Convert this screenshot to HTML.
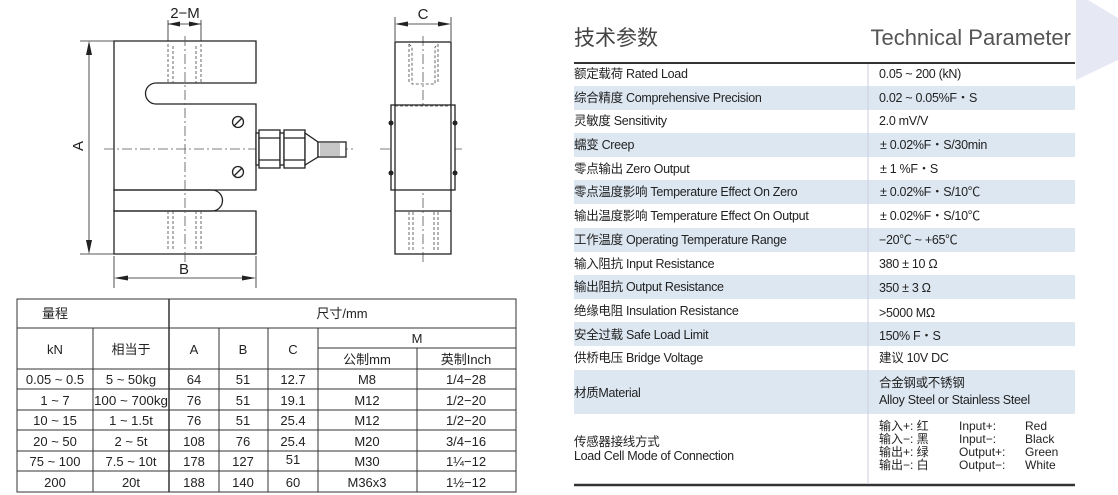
<!DOCTYPE html>
<html><head><meta charset="utf-8"><style>
html,body{margin:0;padding:0;background:#fff;}
body{width:1118px;height:495px;overflow:hidden;position:relative;font-family:"Liberation Sans","Noto Sans CJK SC",sans-serif;}
svg{position:absolute;left:0;top:0;}
</style></head><body>
<svg width="1118" height="495" viewBox="0 0 1118 495" font-family="Liberation Sans, Noto Sans CJK SC, sans-serif">
<polygon points="1076,0 1088,0 1118,18 1118,60 1076,80" fill="#e6e9f3"/>

<g stroke="#222" stroke-width="1.3" fill="none">
<path d="M114,41 H256 V83 H156 A10.5,10.5 0 0 0 156,104 H256 V190 H114 Z"/>
<path d="M114,190 H212 A10.5,10.5 0 0 1 212,211 H114 Z" fill="none"/>
<path d="M114,211 H256 V254 H114 Z"/>
</g>
<g stroke="#444" stroke-width="0.8" stroke-dasharray="3,2" fill="none">
<line x1="168" y1="44" x2="168" y2="83"/><line x1="201" y1="44" x2="201" y2="83"/>
<line x1="173" y1="46" x2="173" y2="83"/><line x1="196" y1="46" x2="196" y2="83"/>
<line x1="168" y1="211" x2="168" y2="251"/><line x1="201" y1="211" x2="201" y2="251"/>
<line x1="173" y1="211" x2="173" y2="249"/><line x1="196" y1="211" x2="196" y2="249"/>
</g>
<g stroke="#555" stroke-width="0.8" stroke-dasharray="10,3,2,3" fill="none">
<line x1="185" y1="36" x2="185" y2="262"/>
<line x1="104" y1="149" x2="353" y2="149"/>
<line x1="380" y1="149" x2="462" y2="149"/>
<line x1="423" y1="36" x2="423" y2="263"/>
</g>
<g stroke="#222" stroke-width="1.3" fill="none">
<circle cx="238" cy="122" r="5.5"/><line x1="234" y1="126" x2="242" y2="118"/>
<circle cx="238" cy="172" r="5.5"/><line x1="234" y1="176" x2="242" y2="168"/>
</g>
<g stroke="#222" stroke-width="1.3" fill="#fff">
<rect x="256" y="133" width="3" height="32"/>
<rect x="259" y="130" width="21" height="38"/>
<line x1="259" y1="138" x2="280" y2="138"/><line x1="259" y1="160" x2="280" y2="160"/>
<rect x="280" y="133" width="4" height="32"/>
<rect x="284" y="130" width="21" height="38"/>
<line x1="284" y1="138" x2="305" y2="138"/><line x1="284" y1="160" x2="305" y2="160"/>
<path d="M305,133 L318,142 V157 L305,165 Z"/>
<rect x="318" y="142" width="28" height="15"/>
</g>
<g stroke="#444" stroke-width="0.6">
<line x1="321" y1="143" x2="321" y2="156"/><line x1="323" y1="143" x2="323" y2="156"/><line x1="325" y1="143" x2="325" y2="156"/><line x1="327" y1="143" x2="327" y2="156"/><line x1="329" y1="143" x2="329" y2="156"/><line x1="331" y1="143" x2="331" y2="156"/><line x1="333" y1="143" x2="333" y2="156"/><line x1="335" y1="143" x2="335" y2="156"/><line x1="337" y1="143" x2="337" y2="156"/><line x1="339" y1="143" x2="339" y2="156"/>
</g>
<g stroke="#222" stroke-width="0.8" fill="none">
<line x1="80" y1="41" x2="114" y2="41"/><line x1="80" y1="254" x2="114" y2="254"/>
<line x1="89" y1="43" x2="89" y2="252"/>
<line x1="168" y1="20" x2="168" y2="41"/><line x1="201" y1="20" x2="201" y2="41"/>
<line x1="168" y1="24" x2="201" y2="24"/>
<line x1="114" y1="256" x2="114" y2="288"/><line x1="256" y1="256" x2="256" y2="288"/>
<line x1="116" y1="278" x2="254" y2="278"/>
<line x1="395" y1="17" x2="395" y2="41"/><line x1="451" y1="17" x2="451" y2="41"/>
<line x1="397" y1="24" x2="449" y2="24"/>
</g>
<g fill="#222">
<polygon points="89,41 86,55 92,55"/><polygon points="89,254 86,240 92,240"/>
<polygon points="168,24 180,21.5 180,26.5"/><polygon points="201,24 189,21.5 189,26.5"/>
<polygon points="114,278 128,275.5 128,280.5"/><polygon points="256,278 242,275.5 242,280.5"/>
<polygon points="395,24 408,21.5 408,26.5"/><polygon points="451,24 438,21.5 438,26.5"/>
</g>
<g font-size="15" fill="#222" text-anchor="middle">
<text x="185" y="18">2−M</text>
<text x="423" y="19">C</text>
<text x="184" y="274">B</text>
<text transform="translate(83,146) rotate(-90)">A</text>
</g>
<g stroke="#222" stroke-width="1.3" fill="none">
<rect x="395" y="42" width="56" height="212"/>
<rect x="391" y="105" width="64" height="85" fill="#fff"/>
<line x1="395" y1="211" x2="451" y2="211"/>
<line x1="395" y1="105" x2="395" y2="190"/><line x1="451" y1="105" x2="451" y2="190"/>
</g>
<g fill="#222"><circle cx="391" cy="123" r="2.5"/><circle cx="391" cy="173" r="2.5"/><circle cx="455" cy="123" r="2.5"/><circle cx="455" cy="173" r="2.5"/></g>
<g stroke="#444" stroke-width="0.8" stroke-dasharray="3,2" fill="none">
<path d="M409,44 L412,47 V84 H435 V47 L438,44"/>
<line x1="409" y1="44" x2="409" y2="84"/><line x1="438" y1="44" x2="438" y2="84"/>
<line x1="409" y1="212" x2="409" y2="252"/><line x1="438" y1="212" x2="438" y2="252"/>
<line x1="413" y1="212" x2="413" y2="252"/><line x1="434" y1="212" x2="434" y2="252"/>
<line x1="395" y1="106" x2="451" y2="106"/>
</g>

<g stroke="#333" stroke-width="1" fill="none">
<rect x="17" y="299" width="499" height="193"/>
<line x1="17" y1="328" x2="516" y2="328"/>
<line x1="17" y1="369" x2="516" y2="369"/>
<line x1="17" y1="389" x2="516" y2="389"/>
<line x1="17" y1="410" x2="516" y2="410"/>
<line x1="17" y1="430" x2="516" y2="430"/>
<line x1="17" y1="451" x2="516" y2="451"/>
<line x1="17" y1="471" x2="516" y2="471"/>
<line x1="318" y1="348" x2="516" y2="348"/>
<line x1="93" y1="328" x2="93" y2="492"/>
<line x1="169" y1="299" x2="169" y2="492" stroke-width="1.5"/>
<line x1="219" y1="328" x2="219" y2="492"/>
<line x1="268" y1="328" x2="268" y2="492"/>
<line x1="318" y1="328" x2="318" y2="492"/>
<line x1="417" y1="348" x2="417" y2="492"/>
</g>
<g font-size="13" fill="#222" text-anchor="middle">
<text x="55" y="318">量程</text>
<text x="342" y="318">尺寸/mm</text>
<text x="55" y="354">kN</text><text x="131" y="354">相当于</text>
<text x="194" y="354">A</text><text x="243" y="354">B</text><text x="293" y="354">C</text>
<text x="417" y="343">M</text>
<text x="367" y="364">公制mm</text><text x="466" y="364">英制Inch</text>
<text x="55" y="384">0.05 ~ 0.5</text><text x="131" y="384">5 ~ 50kg</text><text x="194" y="384">64</text><text x="243" y="384">51</text><text x="293" y="384">12.7</text><text x="367" y="384">M8</text><text x="466" y="384">1/4−28</text>
<text x="55" y="405">1 ~ 7</text><text x="131" y="405" textLength="74" lengthAdjust="spacingAndGlyphs">100 ~ 700kg</text><text x="194" y="405">76</text><text x="243" y="405">51</text><text x="293" y="405">19.1</text><text x="367" y="405">M12</text><text x="466" y="405">1/2−20</text>
<text x="55" y="425">10 ~ 15</text><text x="131" y="425">1 ~ 1.5t</text><text x="194" y="425">76</text><text x="243" y="425">51</text><text x="293" y="425">25.4</text><text x="367" y="425">M12</text><text x="466" y="425">1/2−20</text>
<text x="55" y="446">20 ~ 50</text><text x="131" y="446">2 ~ 5t</text><text x="194" y="446">108</text><text x="243" y="446">76</text><text x="293" y="446">25.4</text><text x="367" y="446">M20</text><text x="466" y="446">3/4−16</text>
<text x="55" y="466">75 ~ 100</text><text x="131" y="466">7.5 ~ 10t</text><text x="194" y="466">178</text><text x="243" y="466">127</text><text x="293" y="464">51</text><text x="367" y="466">M30</text><text x="466" y="466">1¼−12</text>
<text x="55" y="487">200</text><text x="131" y="487">20t</text><text x="194" y="487">188</text><text x="243" y="487">140</text><text x="293" y="487">60</text><text x="367" y="487">M36x3</text><text x="466" y="487">1½−12</text>
</g>

<text x="574" y="45" font-size="21" fill="#444">技术参数</text>
<text x="1071" y="45" font-size="22" fill="#555" text-anchor="end">Technical Parameter</text>
<g fill="#dde7f1">
<rect x="574" y="86" width="501" height="24"/>
<rect x="574" y="133" width="501" height="24"/>
<rect x="574" y="180" width="501" height="24"/>
<rect x="574" y="228" width="501" height="24"/>
<rect x="574" y="275" width="501" height="24"/>
<rect x="574" y="322" width="501" height="24"/>
<rect x="574" y="370" width="501" height="44"/>
</g>
<line x1="574" y1="63" x2="1075" y2="63" stroke="#333" stroke-width="2"/>
<line x1="574" y1="485" x2="1075" y2="485" stroke="#333" stroke-width="2.5"/>
<line x1="868" y1="64" x2="868" y2="484" stroke="#ccd" stroke-width="1"/>
<g font-size="12.5" fill="#222" letter-spacing="-0.3">
<text x="574" y="78">额定载荷 Rated Load</text><text x="879" y="78">0.05 ~ 200 (kN)</text>
<text x="574" y="102">综合精度 Comprehensive Precision</text><text x="879" y="102">0.02  ~ 0.05%F・S</text>
<text x="574" y="125">灵敏度 Sensitivity</text><text x="879" y="125">2.0 mV/V</text>
<text x="574" y="149">蠕变 Creep</text><text x="880" y="149">± 0.02%F・S/30min</text>
<text x="574" y="173">零点输出 Zero Output</text><text x="880" y="173">± 1 %F・S</text>
<text x="574" y="196">零点温度影响 Temperature Effect On Zero</text><text x="880" y="196">± 0.02%F・S/10℃</text>
<text x="574" y="220">输出温度影响 Temperature Effect On Output</text><text x="880" y="220">± 0.02%F・S/10℃</text>
<text x="574" y="244">工作温度 Operating Temperature Range</text><text x="879" y="244">−20℃ ~ +65℃</text>
<text x="574" y="268">输入阻抗 Input Resistance</text><text x="879" y="268">380 ± 10  Ω</text>
<text x="574" y="291">输出阻抗 Output Resistance</text><text x="879" y="292">350 ± 3  Ω</text>
<text x="574" y="315">绝缘电阻 Insulation Resistance</text><text x="879" y="317">&gt;5000 MΩ</text>
<text x="574" y="339">安全过载 Safe Load Limit</text><text x="879" y="340">150% F・S</text>
<text x="574" y="362">供桥电压 Bridge Voltage</text><text x="879" y="362">建议 10V DC</text>
<text x="574" y="397">材质Material</text><text x="879" y="387">合金钢或不锈钢</text><text x="879" y="404">Alloy Steel or Stainless Steel</text>
<text x="574" y="446">传感器接线方式</text><text x="574" y="460">Load Cell Mode of Connection</text>
</g>
<g font-size="12" fill="#222">
<text x="879" y="430">输入+:  红</text><text x="959" y="430">Input+:</text><text x="1025" y="430">Red</text>
<text x="879" y="443">输入−:  黑</text><text x="959" y="443">Input−:</text><text x="1025" y="443">Black</text>
<text x="879" y="456">输出+:  绿</text><text x="959" y="456">Output+:</text><text x="1025" y="456">Green</text>
<text x="879" y="469">输出−:  白</text><text x="959" y="469">Output−:</text><text x="1025" y="469">White</text>
</g>
</svg>
</body></html>
